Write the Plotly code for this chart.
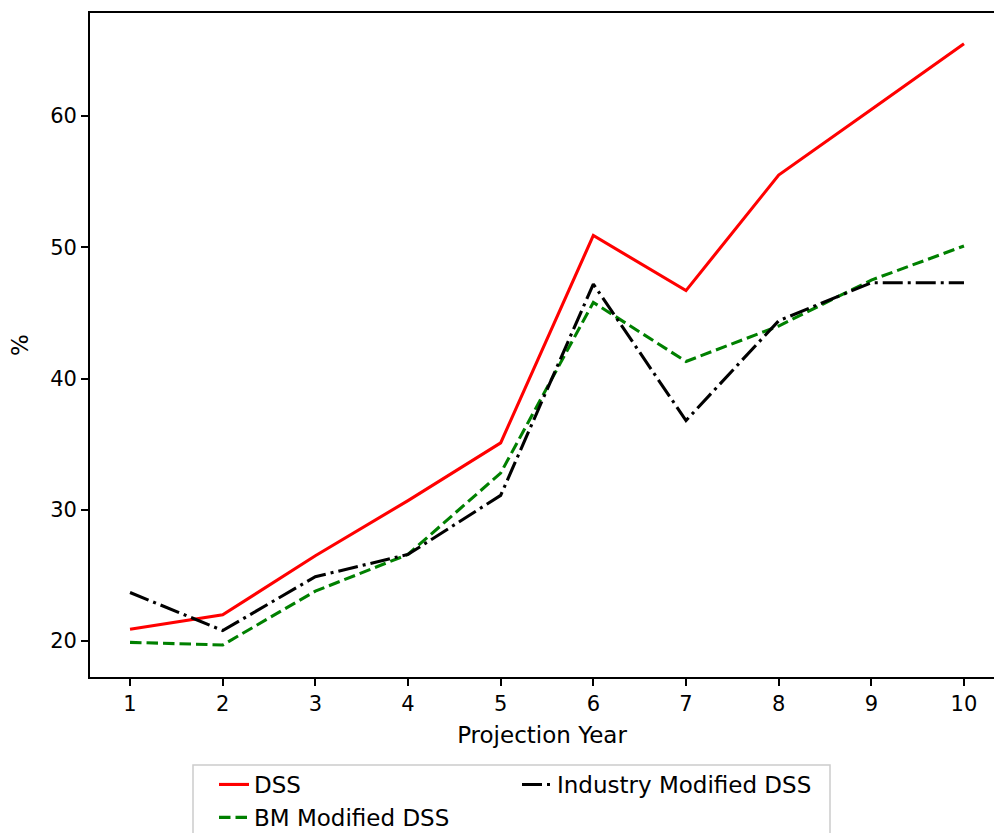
import plotly.graph_objects as go

years = [1, 2, 3, 4, 5, 6, 7, 8, 9, 10]
dss = [20.9, 22.0, 26.5, 30.7, 35.1, 50.9, 46.7, 55.5, 60.5, 65.5]
bm_dss = [19.9, 19.7, 23.8, 26.6, 32.8, 45.8, 41.3, 44.0, 47.5, 50.1]
industry_dss = [23.7, 20.8, 24.9, 26.6, 31.1, 47.2, 36.8, 44.4, 47.3, 47.3]
y_ticks = [20, 30, 40, 50, 60]

FONT = "DejaVu Sans"
LW = 3.1
W, H = 994, 833
PL, PT, PW, PH = 90, 13, 904, 664  # plot area in pixels

fig = go.Figure()
fig.add_trace(go.Scatter(x=years, y=dss, mode="lines", name="DSS",
                         line=dict(color="red", width=LW), legend="legend"))
fig.add_trace(go.Scatter(x=years, y=bm_dss, mode="lines", name="BM Modified DSS",
                         line=dict(color="green", width=LW, dash="11.5px,5px"),
                         legend="legend"))
fig.add_trace(go.Scatter(x=years, y=industry_dss, mode="lines",
                         name="Industry Modified DSS",
                         line=dict(color="black", width=LW,
                                   dash="20px,5px,3px,5px"),
                         legend="legend2"))

leg_common = dict(
    orientation="v", xref="container", yref="container",
    xanchor="left", yanchor="top",
    bgcolor="rgba(0,0,0,0)", borderwidth=0,
    font=dict(family=FONT, size=23, color="black"),
    traceorder="normal",
)

fig.update_layout(
    width=W, height=H,
    margin=dict(l=PL, r=0, t=PT, b=H - PT - PH, autoexpand=False),
    paper_bgcolor="white", plot_bgcolor="white",
    font=dict(family=FONT, size=21, color="black"),
    showlegend=True,
    legend=dict(x=214 / W, y=1 - 763 / H, **leg_common),
    legend2=dict(x=517 / W, y=1 - 763 / H, **leg_common),
)

# legend frame (cut by the bottom edge, as in the reference)
fig.add_shape(type="rect", xref="paper", yref="paper",
              x0=(193 - PL) / PW, x1=(830 - PL) / PW,
              y0=(PT + PH - 845) / PH, y1=(PT + PH - 765) / PH,
              line=dict(color="#cccccc", width=1.5), fillcolor="white",
              layer="above")

# y-axis title
fig.add_annotation(text="%", xref="paper", yref="paper",
                   x=(20 - PL) / PW, y=(PT + PH - 345) / PH,
                   xanchor="center", yanchor="middle", textangle=-90,
                   showarrow=False, font=dict(family=FONT, size=23, color="black"))

fig.update_xaxes(
    range=[0.568, 10.324], tickmode="array", tickvals=years,
    ticktext=[str(v) for v in years],
    showgrid=False, zeroline=False,
    showline=True, linecolor="black", linewidth=1.67, mirror=True,
    ticks="outside", ticklen=7, tickwidth=1.67, tickcolor="black",
    tickfont=dict(family=FONT, size=21),
    title=dict(text="Projection Year", font=dict(family=FONT, size=23), standoff=12),
)
fig.update_yaxes(
    range=[17.26, 67.85], tickmode="array", tickvals=y_ticks,
    ticktext=[str(v) for v in y_ticks],
    showgrid=False, zeroline=False,
    showline=True, linecolor="black", linewidth=1.67, mirror=False,
    ticks="outside", ticklen=7, tickwidth=1.67, tickcolor="black",
    tickfont=dict(family=FONT, size=21),
)

fig.write_html("out.html")
